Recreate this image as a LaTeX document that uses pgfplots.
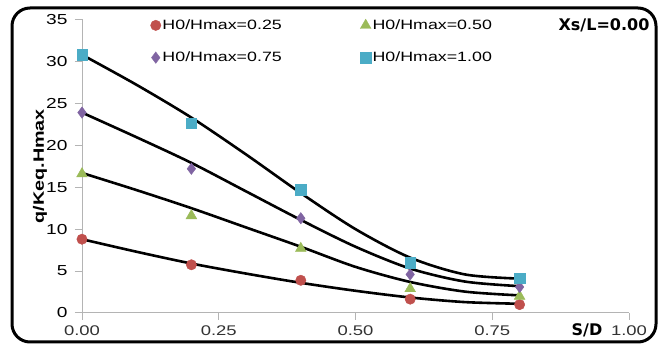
\documentclass[border=0pt]{standalone}
\usepackage{fontspec}
\setmainfont{Liberation Sans}
\newfontfamily\wide[FakeStretch=1.32]{Liberation Sans}
\newfontfamily\verd{DejaVu Sans}
\usepackage{pgfplots}
\pgfplotsset{compat=1.18}
\definecolor{cred}{HTML}{C0504D}
\definecolor{cgreen}{HTML}{9BBB59}
\definecolor{cpurple}{HTML}{8064A2}
\definecolor{cblue}{HTML}{4BACC6}
\definecolor{axisgray}{HTML}{B4B4B4}
\begin{document}
\begin{tikzpicture}[x=1pt,y=1pt]
\useasboundingbox (0,0) rectangle (672,345);
\fill[white] (0,0) rectangle (672,345);
\draw[line width=3pt, rounded corners=18pt] (12,3) rectangle (656,337);
\begin{axis}[
  at={(82pt,32pt)}, anchor=south west,
  scale only axis, width=547pt, height=293.5pt,
  xmin=0, xmax=1, ymin=0, ymax=35,
  axis lines=left,
  axis line style={draw=axisgray, line width=1pt, -},
  xtick={0,0.25,0.5,0.75,1},
  xticklabels={0.00,0.25,0.50,0.75,1.00},
  ytick={0,5,10,15,20,25,30,35},
  tick style={draw=axisgray, line width=1pt},
  tick align=outside, major tick length=7pt,
  /pgf/number format/assume math mode=true,
  xticklabel style={font=\wide\fontsize{14}{16}\selectfont, text=black!80, yshift=-2pt},
  yticklabel style={font=\wide\fontsize{14.5}{16}\selectfont, xshift=-4pt},
  ylabel={q/Keq.Hmax},
  ylabel style={font=\wide\bfseries\fontsize{15}{18}\selectfont, at={(axis description cs:-0.077,0.5)}, anchor=center},
  legend columns=2,
  legend cell align=left,
  legend image code/.code={\draw[#1] plot coordinates {(0pt,0pt)};},
  legend style={draw=none, fill=none, font=\wide\fontsize{13.5}{16}\selectfont,
    at={(axis description cs:0.125,1.005)}, anchor=north west, inner sep=0pt,
    row sep=18pt, nodes={inner sep=1.5pt},
    /tikz/every even column/.append style={column sep=77pt}},
  clip=false,
]
\addplot[only marks, mark=*, mark size=5.2pt, color=cred, mark options={draw=cred, fill=cred}]
  coordinates {(0,8.8) (0.2,5.75) (0.4,3.9) (0.6,1.65) (0.8,1.0)};
\addlegendentry{H0/Hmax=0.25}
\addplot[only marks, mark=triangle*, mark size=6.2pt, color=cgreen, mark options={draw=cgreen, fill=cgreen}]
  coordinates {(0,16.6) (0.2,11.6) (0.4,7.7) (0.6,2.9) (0.8,2.0)};
\addlegendentry{H0/Hmax=0.50}
\addplot[only marks, mark=diamond*, mark size=5.7pt, color=cpurple, mark options={draw=cpurple, fill=cpurple}]
  coordinates {(0,23.9) (0.2,17.2) (0.4,11.3) (0.6,4.6) (0.8,3.1)};
\addlegendentry{H0/Hmax=0.75}
\addplot[only marks, mark=square*, mark size=5.2pt, color=cblue, mark options={draw=cblue, fill=cblue}]
  coordinates {(0,30.8) (0.2,22.6) (0.4,14.7) (0.6,6.0) (0.8,4.15)};
\addlegendentry{H0/Hmax=1.00}
% trend curves
\addplot[forget plot, black, line width=2.6pt, smooth]
  coordinates {(0,8.8) (0.1,7.3) (0.2,5.9) (0.3,4.7) (0.4,3.6) (0.5,2.65) (0.6,1.85) (0.7,1.3) (0.8,1.1)};
\addplot[forget plot, black, line width=2.6pt, smooth]
  coordinates {(0,16.7) (0.1,14.65) (0.2,12.5) (0.3,10.2) (0.4,7.9) (0.5,5.5) (0.6,3.7) (0.7,2.55) (0.8,2.1)};
\addplot[forget plot, black, line width=2.6pt, smooth]
  coordinates {(0,23.9) (0.1,20.95) (0.2,17.9) (0.3,14.5) (0.4,11.1) (0.5,7.9) (0.6,5.3) (0.7,3.75) (0.8,3.2)};
\addplot[forget plot, black, line width=2.6pt, smooth]
  coordinates {(0,30.8) (0.1,27.2) (0.2,23.3) (0.3,18.9) (0.4,14.3) (0.5,10.0) (0.6,6.6) (0.7,4.6) (0.8,4.1)};
\end{axis}
\node[font=\verd\bfseries\fontsize{16}{18}\selectfont, inner sep=0pt] at (587,15) {S/D};
\node[font=\verd\bfseries\fontsize{16}{18}\selectfont, inner sep=0pt] at (604,320) {Xs/L=0.00};
\end{tikzpicture}
\end{document}
